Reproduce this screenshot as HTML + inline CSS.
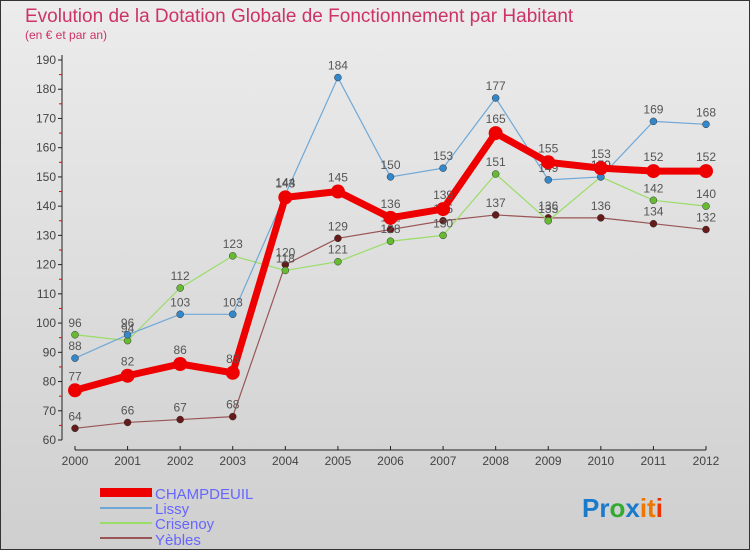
<!DOCTYPE html>
<html><head><meta charset="utf-8"><style>
body{margin:0;width:750px;height:550px;overflow:hidden}
svg{display:block;font-family:"Liberation Sans",sans-serif}
</style></head><body>
<svg id="c" width="750" height="550" xmlns="http://www.w3.org/2000/svg">
<defs><linearGradient id="bg" x1="0" y1="0" x2="0" y2="1"><stop offset="0" stop-color="#ececec"/><stop offset="1" stop-color="#cfcfcf"/></linearGradient></defs>
<rect x="0.5" y="0.5" width="749" height="549" fill="url(#bg)" stroke="#333"/>
<text x="25" y="22" font-size="19" fill="#cc3366">Evolution de la Dotation Globale de Fonctionnement par Habitant</text>
<text x="25" y="39" font-size="12" fill="#cc3366">(en € et par an)</text>
<g id="axes"></g><g id="series"></g>
<g>
<rect x="100" y="488" width="52" height="9" fill="#ee0000"/>
<text x="155" y="499" font-size="15" fill="#6666ff">CHAMPDEUIL</text>
<rect x="100" y="507" width="52" height="2" fill="#6fa8d6"/>
<text x="155" y="514" font-size="15" fill="#6666ff">Lissy</text>
<rect x="100" y="522" width="52" height="2" fill="#99dd66"/>
<text x="155" y="529" font-size="15" fill="#6666ff">Crisenoy</text>
<rect x="100" y="537" width="52" height="2" fill="#995555"/>
<text x="155" y="545" font-size="15" fill="#6666ff">Yèbles</text>
</g>
<text x="582" y="517" font-size="26" font-weight="bold"><tspan fill="#1a7acc">Pr</tspan><tspan fill="#33aa33">o</tspan><tspan fill="#1a7acc">x</tspan><tspan fill="#ee7700">it</tspan><tspan fill="#ee3300">i</tspan></text>
</svg>
<script>
const years=[2000,2001,2002,2003,2004,2005,2006,2007,2008,2009,2010,2011,2012];
const yTicks=[60,70,80,90,100,110,120,130,140,150,160,170,180,190];
const champdeuil=[77,82,86,83,143,145,136,139,165,155,153,152,152];
const lissy=[88,96,103,103,144,184,150,153,177,149,150,169,168];
const crisenoy=[96,94,112,123,118,121,128,130,151,135,150,142,140];
const yebles=[64,66,67,68,120,129,132,135,137,136,136,134,132];
const NS="http://www.w3.org/2000/svg";
function X(i){return 75+i*(706-75)/12;}
function Y(v){return 440-(v-60)*(380/130);}
function mk(t,a,p){const e=document.createElementNS(NS,t);for(const k in a)e.setAttribute(k,a[k]);p.appendChild(e);return e;}
const ax=document.getElementById('axes');
let l=mk('line',{x1:62,y1:55,x2:62,y2:440,stroke:'#222'},ax);


yTicks.forEach(v=>{
 const t=mk('line',{x1:58,y1:Y(v),x2:62,y2:Y(v),stroke:'#222'},ax);
 
 
 if(v<190){const m=mk('line',{x1:59,y1:Y(v+5),x2:62,y2:Y(v+5),stroke:'#e00'},ax);
 
 }
 const s=mk('text',{x:56,y:Y(v)+4,'text-anchor':'end','font-size':12,fill:'#444'},ax);s.textContent=v;
 
 
});
l=mk('line',{x1:75,y1:450,x2:706,y2:450,stroke:'#222'},ax);


years.forEach((y,i)=>{
 const t=mk('line',{x1:X(i),y1:446,x2:X(i),y2:450,stroke:'#222'},ax);
 
 
 const s=mk('text',{x:X(i),y:465,'text-anchor':'middle','font-size':12,fill:'#444'},ax);s.textContent=y;
 
 
});
const sg=document.getElementById('series');
function draw(vals,name,color,w,r,dot){
 const g=mk('g',{},sg);
 
 
 const p=mk('polyline',{points:vals.map((v,i)=>X(i)+','+Y(v)).join(' '),fill:'none',stroke:color,'stroke-width':w,'stroke-linejoin':'round'},g);
 
 
 vals.forEach((v,i)=>{
  const c=mk('circle',{cx:X(i),cy:Y(v),r:r,fill:dot,stroke:'#333','stroke-width':w>4?0:0.5},g);
  
  
  const t=mk('text',{x:X(i),y:Y(v)-8-(w>4?2:0),'text-anchor':'middle','font-size':12,fill:'#555'},g);t.textContent=v;
  
  
 });
}
draw(yebles,'yebles','#995555',1.2,3.5,'#661a1a');
draw(crisenoy,'crisenoy','#99dd66',1.2,3.5,'#66bb33');
draw(lissy,'lissy','#6fa8d6',1.2,3.5,'#3388cc');
draw(champdeuil,'champdeuil','#ee0000',7,7,'#ee0000');
</script>
</body></html>
